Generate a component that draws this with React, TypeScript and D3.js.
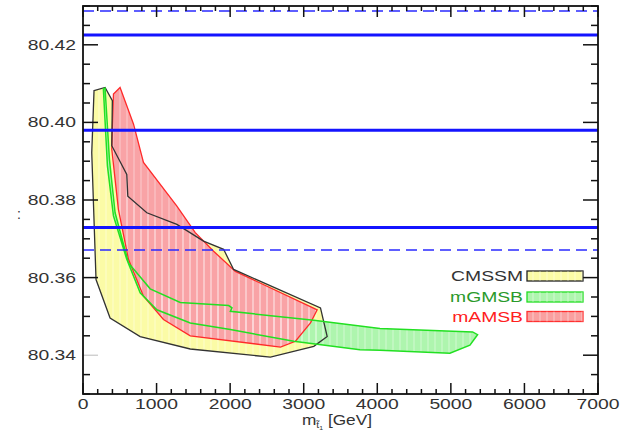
import React from "react";
import * as d3 from "d3";

const cmssmX = [150, 300, 399, 391, 595, 609, 868, 1276, 1638, 1911, 2047, 3228, 3319, 3137, 2547, 1458, 777, 368, 177, 119];
const cmssmY = [80.4082, 80.409, 80.4056, 80.394, 80.3866, 80.381, 80.3767, 80.3737, 80.3694, 80.3673, 80.3621, 80.3522, 80.3448, 80.3423, 80.3395, 80.3416, 80.3448, 80.3496, 80.3595, 80.3922];

const mamsbX = [504, 686, 822, 1276, 1526, 1775, 2071, 3183, 3092, 2888, 2684, 1458, 1094, 822, 618, 481, 391, 414];
const mamsbY = [80.409, 80.3996, 80.3897, 80.3784, 80.3716, 80.3668, 80.3616, 80.3517, 80.3483, 80.3436, 80.3421, 80.345, 80.3492, 80.3552, 80.3647, 80.3776, 80.3931, 80.4073];

const mgmsbX = [300, 359, 436, 618, 913, 1322, 1980, 2025, 2003, 3137, 4036, 5295, 5363, 5259, 4987, 4036, 3765, 2865, 2003, 1458, 1004, 777, 595, 414, 332, 277];
const mgmsbY = [80.4088, 80.3905, 80.3767, 80.3638, 80.3571, 80.3536, 80.3528, 80.3522, 80.3513, 80.349, 80.3469, 80.346, 80.3453, 80.3426, 80.3405, 80.3413, 80.3414, 80.3436, 80.3466, 80.3483, 80.3517, 80.3561, 80.3647, 80.3759, 80.3888, 80.4086];

const solidLines = [80.4225, 80.398, 80.3729];
const dashedLines = [80.4287, 80.3671];

const xTickLabels = [0, 1000, 2000, 3000, 4000, 5000, 6000, 7000];
const yTickLabels = [80.34, 80.36, 80.38, 80.4, 80.42];

const legendNames = ["CMSSM", "mGMSB", "mAMSB"];
const legendText = ["#333333", "#2a9a2a", "#ff2020"];
const legendFill = ["#fbfba6", "#aef5ae", "#f9a0a0"];
const legendStroke = ["#222222", "#22dd22", "#ff3030"];

const W = 627;
const H = 436;
const L = 83, R = 598, T = 6, B = 394;

export default function App() {
  const x = d3.scaleLinear().domain([0, 7000]).range([L, R]);
  const y = d3.scaleLinear().domain([80.33, 80.43]).range([B, T]);

  const poly = (xs: number[], ys: number[]) =>
    d3.line<number>().x((_, i) => x(xs[i])).y((_, i) => y(ys[i]))(xs.map((_, i) => i)) + "Z";

  const cm = poly(cmssmX, cmssmY);
  const am = poly(mamsbX, mamsbY);
  const gm = poly(mgmsbX, mgmsbY);

  const xMinor = d3.range(0, 7001, 200);
  const yMinor = d3.range(0, 21).map((i) => 80.33 + i * 0.005);
  const font = "'Liberation Sans', Arial, sans-serif";
  const sx = 1.38;

  return (
    <svg width={W} height={H} style={{ position: "absolute", left: 0, top: 0, background: "#fff" }} fontFamily={font}>
      <defs>
        <pattern id="hatch" width="7" height="10" patternUnits="userSpaceOnUse">
          <rect x="0" y="0" width="2" height="10" fill="#ffffff" opacity="0.22" />
        </pattern>
        <clipPath id="plot">
          <rect x={L} y={T} width={R - L} height={B - T} />
        </clipPath>
      </defs>
      <g clipPath="url(#plot)">
        <path d={cm} fill="#fbfba6" />
        <path d={gm} fill="#aef5ae" />
        <path d={am} fill="#f9a3a6" />
        <path d={cm} fill="url(#hatch)" />
        <path d={gm} fill="url(#hatch)" />
        <path d={am} fill="url(#hatch)" />
        <path d={am} fill="none" stroke="#ff2a2a" strokeWidth={1.3} />
        <path d={cm} fill="none" stroke="#333" strokeWidth={1.3} />
        <path d={gm} fill="none" stroke="#22e022" strokeWidth={1.5} />
        {solidLines.map((v) => (
          <line key={"s" + v} x1={L} x2={R} y1={y(v)} y2={y(v)} stroke="#1414ff" strokeWidth={3} />
        ))}
        {dashedLines.map((v) => (
          <line key={"d" + v} x1={L} x2={R} y1={y(v)} y2={y(v)} stroke="#2a2aff" strokeWidth={1.6} strokeDasharray="11,6" />
        ))}
      </g>
      {xMinor.map((v) => {
        const major = v % 1000 === 0;
        const len = major ? 11 : 5;
        return (
          <g key={"xt" + v}>
            <line x1={x(v)} x2={x(v)} y1={B} y2={B - len} stroke="#111" strokeWidth={1.5} />
            <line x1={x(v)} x2={x(v)} y1={T} y2={T + len} stroke="#111" strokeWidth={1.5} />
          </g>
        );
      })}
      {yMinor.map((v, i) => {
        const major = i % 4 === 2;
        const len = major ? 15 : 7;
        const col = Math.abs(v - 80.34) < 1e-6 ? "#aaa" : "#111";
        return (
          <g key={"yt" + i}>
            <line x1={L} x2={L + len} y1={y(v)} y2={y(v)} stroke={col} strokeWidth={col === "#aaa" ? 0.8 : 1.5} />
            <line x1={R} x2={R - len} y1={y(v)} y2={y(v)} stroke="#111" strokeWidth={1.5} />
          </g>
        );
      })}
      <rect x={L} y={T} width={R - L} height={B - T} fill="none" stroke="#111" strokeWidth={1.8} />
      {xTickLabels.map((v) => (
        <g key={"xl" + v} transform={`translate(${x(v)},${B + 15}) scale(${sx},1)`}>
          <text textAnchor="middle" fontSize={14} fill="#333">{v}</text>
        </g>
      ))}
      {yTickLabels.map((v) => (
        <g key={"yl" + v} transform={`translate(${L - 7},${y(v) + 5}) scale(${sx},1)`}>
          <text textAnchor="end" fontSize={14} fill="#333">{v.toFixed(2)}</text>
        </g>
      ))}
      <text x={19} y={219} fontSize={14} fill="#333" textAnchor="middle">:</text>
      <g transform={`translate(302,425) scale(1.15,1)`}>
        <text fontSize={15} fill="#333">
          m<tspan fontSize={9} dy={3}>t̃</tspan><tspan fontSize={6} dy={2}>1</tspan><tspan dy={-5} fontSize={15}> [GeV]</tspan>
        </text>
      </g>
      {legendNames.map((n, i) => {
        const cy = [276, 297, 316.5][i];
        return (
          <g key={n}>
            <g transform={`translate(523,${cy + 5}) scale(${sx},1)`}>
              <text textAnchor="end" fontSize={14} fill={legendText[i]}>{n}</text>
            </g>
            <rect x={527} y={cy - 5} width={56} height={10} fill={legendFill[i]} stroke={legendStroke[i]} strokeWidth={1.3} />
            <rect x={527} y={cy - 5} width={56} height={10} fill="url(#hatch)" />
          </g>
        );
      })}
    </svg>
  );
}
